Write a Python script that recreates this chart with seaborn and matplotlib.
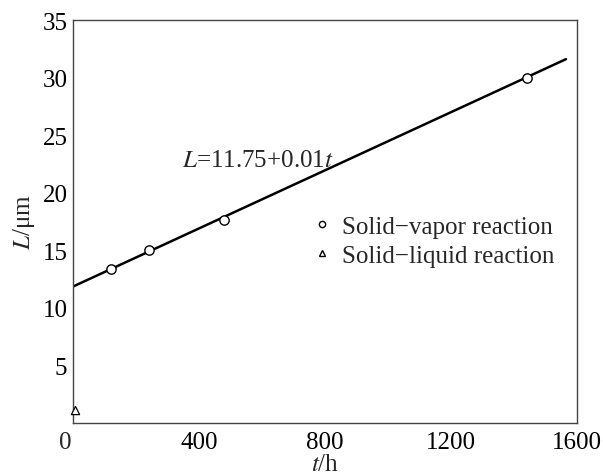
import matplotlib
matplotlib.use("Agg")
import matplotlib.pyplot as plt
import seaborn as sns
import pandas as pd
from matplotlib.lines import Line2D

# data
vapor_t = [120, 240, 480, 1440]
vapor_L = [13.4, 15.0, 17.6, 30.0]
liquid_t = [5]
liquid_L = [1.1]
fit_t = [0, 1565]
fit_L = [11.85, 31.6]
x_ticks = [400, 800, 1200, 1600]
y_ticks = [5, 10, 15, 20, 25, 30, 35]

sns.set_theme(style="white")
plt.rcParams['font.family'] = ['Liberation Serif', 'DejaVu Serif']
plt.rcParams['mathtext.fontset'] = 'stix'

FS = 18
fig = plt.figure(figsize=(6.03, 4.77), dpi=100)
ax = fig.add_axes([73/603, 1-424/477, (577-73)/603, (424-21)/477])

sns.lineplot(x=fit_t, y=fit_L, ax=ax, color='black', lw=1.8)
sns.scatterplot(x=vapor_t, y=vapor_L, ax=ax, marker='o', s=45,
                facecolor='white', edgecolor='black', linewidth=1.0, zorder=3)
sns.scatterplot(x=liquid_t, y=liquid_L, ax=ax, marker='^', s=35,
                facecolor='white', edgecolor='black', linewidth=0.9, zorder=3, clip_on=False)

ax.set_xlim(0, 1600)
ax.set_ylim(0, 35)
ax.set_xticks(x_ticks)
ax.set_yticks(y_ticks)
ax.tick_params(direction='in', length=5, width=1, labelsize=FS, colors='black')
ax.tick_params(axis='x', pad=6)
ax.tick_params(axis='y', pad=4)
for s in ax.spines.values():
    s.set_color('#444444')
    s.set_linewidth(1.0)
ax.text(-0.016, -0.02, '0', transform=ax.transAxes, ha='center', va='top', fontsize=FS)

ax.set_xlabel('$t$/h', fontsize=FS, labelpad=0)
ax.set_ylabel('$L$/μm', fontsize=FS, labelpad=4)

ax.text(346, 22.8, '$L$=11.75+0.01$t$', fontsize=FS, va='center', ha='left')

handles = [
    Line2D([], [], ls='none', marker='o', markersize=4.5, mfc='white', mec='black', mew=1.0),
    Line2D([], [], ls='none', marker='^', markersize=4.5, mfc='white', mec='black', mew=1.0),
]
ax.legend(handles, ['Solid\u2212vapor reaction', 'Solid\u2212liquid reaction'],
          loc='upper left', bbox_to_anchor=(0.48, 0.515), frameon=False,
          fontsize=FS, handlelength=0.6, handletextpad=0.5, labelspacing=0.25,
          borderpad=0, borderaxespad=0)

fig.savefig('out.png', dpi=100)
